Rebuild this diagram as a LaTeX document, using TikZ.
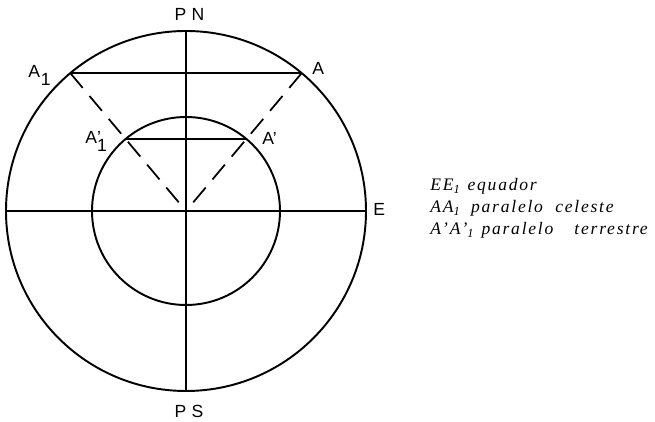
\documentclass[tikz,border=0pt]{standalone}
\usepackage{fontspec}
\setmainfont{Liberation Serif}
\newfontfamily\lettering{Liberation Sans}
\newfontfamily\legendfont[LetterSpace=10]{Liberation Serif}

\begin{document}
\begin{tikzpicture}
        \tikzset{circ/.style={line width=1.1pt},
                 axisline/.style={line width=1.5pt},
                 ray/.style={line width=1pt, dash pattern=on 11pt off 6pt},
                 lbl/.style={inner sep=0pt, font=\lettering\fontsize{10}{12}\selectfont},
                 legend/.style={inner sep=0pt, anchor=base west, font=\legendfont\itshape\fontsize{10}{12}\selectfont}}
        \useasboundingbox (-3.72,-4.22) rectangle (9.38,4.22);
        % centre, poles and equator
        \coordinate (O) at (0,0);
        \coordinate (PN) at (90:3.6);
        \coordinate (PS) at (-90:3.6);
        \coordinate (E) at (0:3.6);
        \coordinate (E1) at (180:3.6);
        % celestial and terrestrial parallels
        \coordinate (A) at (50:3.6);
        \coordinate (A1) at (130:3.6);
        \coordinate (Ap) at (50:1.88);
        \coordinate (Ap1) at (130:1.88);

        \draw[circ] (O) circle (3.6);
        \draw[circ] (O) circle (1.88);
        \draw[line width=0.8pt] (PN) -- (PS);
        \draw[axisline] (E1) -- (E);
        \draw[line width=1pt] (A1) -- (A);
        \draw[line width=1pt] (Ap1) -- (Ap);
        \draw[ray] (A) -- (O);
        \draw[ray] (A1) -- (O);

        \node[lbl, anchor=base] (pnlabel) at (0.07,3.81) {P\hspace{0.3em}N};
        \node[lbl, anchor=base] (pslabel) at (0.06,-4.14) {P\hspace{0.3em}S};
        \node[lbl, anchor=base west] (alabel) at (2.52,2.72) {A};
        \node[lbl, anchor=base west] (a1label) at (-3.16,2.66) {A\kern0.5pt\raisebox{-4.5pt}{1}};
        \node[lbl, anchor=base west] (aplabel) at (1.52,1.32) {A’};
        \node[lbl, anchor=base west] (ap1label) at (-2.02,1.34) {A\raisebox{-4.5pt}{\rlap{\raisebox{4.5pt}{’}}1}};
        \node[lbl, anchor=west] (elabel) at (3.74,0.04) {E};

        % legend
        \node[legend] (leg1) at (4.88,0.40) {EE\textsubscript{1}\hspace{4pt}equador};
        \node[legend] (leg2) at (4.88,-0.04) {AA\textsubscript{1}\hspace{6pt}paralelo\hspace{7pt}celeste};
        \node[legend] (leg3) at (4.88,-0.47) {A’A’\textsubscript{1}\hspace{4pt}paralelo\hspace{12pt}terrestre};
\end{tikzpicture}
\end{document}
